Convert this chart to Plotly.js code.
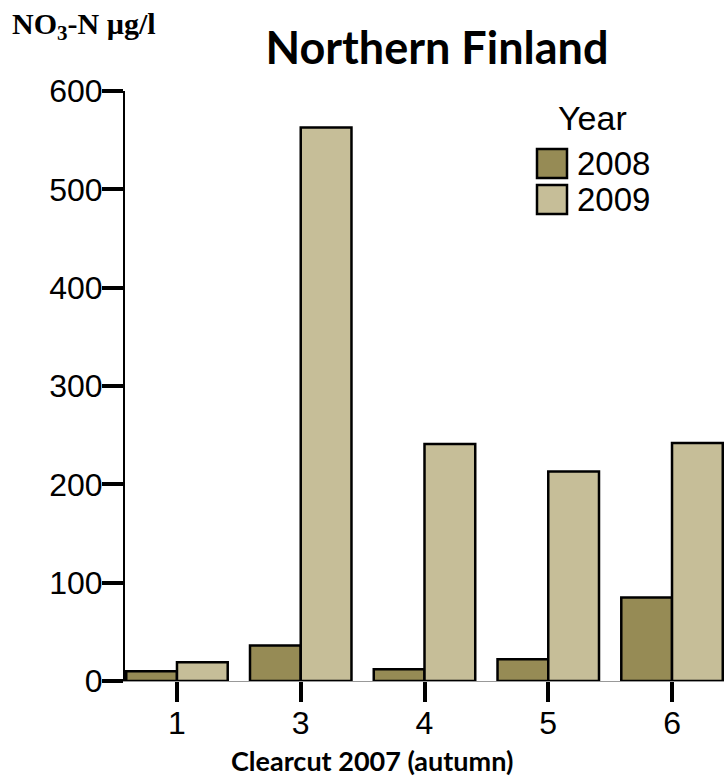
<!DOCTYPE html>
<html>
<head>
<meta charset="utf-8">
<script src="https://cdn.plot.ly/plotly-3.0.1.min.js"></script>
<style>html,body{margin:0;padding:0;background:#fff;}#chart{width:724px;height:778px;}</style>
</head>
<body>
<div id="chart"></div>
<script>
const categories = ["1", "3", "4", "5", "6"];
const years = ["2008", "2009"];
const values2008 = [10, 36, 12, 22, 85];
const values2009 = [19, 563, 241, 213, 242];
const yearColors = ["#968B55", "#C6BE98"];
const yTicks = [0, 100, 200, 300, 400, 500, 600];

const seriesValues = [values2008, values2009];
const traces = years.map((yr, i) => ({
  type: "bar",
  name: yr,
  x: categories,
  y: seriesValues[i],
  marker: {color: yearColors[i], line: {color: "#000", width: 2.5}},
  showlegend: false,
  hoverinfo: "x+y+name"
}));

// custom legend (large swatches)
const legShapes = [];
const legAnn = [];
years.forEach((yr, i) => {
  const top = 149 + i * 36;
  legShapes.push({type: "rect", xref: "paper", yref: "paper",
    x0: (537 - 125) / 599, x1: (567 - 125) / 599,
    y0: 1 - (top + 29 - 91) / 590, y1: 1 - (top - 91) / 590,
    fillcolor: yearColors[i], line: {color: "#000", width: 2.5}});
  legAnn.push({xref: "paper", yref: "paper", x: (575 - 125) / 599, y: 1 - (top + 14.5 - 91) / 590,
    xanchor: "left", yanchor: "middle", showarrow: false, text: yr,
    font: {family: "Liberation Sans, Arial", size: 33, color: "#000"}});
});
legAnn.push({xref: "paper", yref: "paper", x: (592 - 125) / 599, y: 1 - (118 - 91) / 590,
  xanchor: "center", yanchor: "middle", showarrow: false, text: "Year",
  font: {family: "Liberation Sans, Arial", size: 34, color: "#000"}});

const layout = {
  width: 724, height: 778,
  margin: {l: 125, r: 0, t: 91, b: 97},
  paper_bgcolor: "#fff", plot_bgcolor: "#fff",
  barmode: "group", bargap: 0.18, bargroupgap: 0,
  title: {text: "<b>Northern Finland</b>", x: 437 / 724, xanchor: "center", y: 1 - 48 / 778, yanchor: "middle",
    font: {family: "Lato, Open Sans, sans-serif", size: 45, color: "#000"}},
  xaxis: {
    type: "category", range: [-0.42, 4.42],
    showline: true, linecolor: "#999", linewidth: 1,
    ticks: "outside", ticklen: 20, tickwidth: 4, tickcolor: "#000",
    ticklabelstandoff: -6,
    showgrid: false, zeroline: false,
    tickfont: {family: "Liberation Sans, Arial", size: 32, color: "#000"},
    fixedrange: true
  },
  yaxis: {
    range: [0, 600], tickvals: yTicks, ticktext: yTicks.map(String),
    showline: true, linecolor: "#000", linewidth: 2,
    ticks: "outside", ticklen: 21, tickwidth: 4, tickcolor: "#000",
    ticklabelstandoff: -7,
    showgrid: false, zeroline: false,
    tickfont: {family: "Liberation Sans, Arial", size: 32, color: "#000"},
    fixedrange: true
  },
  shapes: legShapes,
  annotations: legAnn.concat([
    {xref: "paper", yref: "paper", x: (372 - 125) / 599, y: -(760 - 681) / 590, xanchor: "center", yanchor: "middle",
      showarrow: false, text: "<b>Clearcut 2007 (autumn)</b>",
      font: {family: "Lato, Open Sans, sans-serif", size: 27, color: "#000"}},
    {xref: "paper", yref: "paper", x: -(125 - 10) / 599, y: 1 + (91 - 26) / 590, xanchor: "left", yanchor: "middle",
      showarrow: false, text: "<b>NO<sub>3</sub>-N µg/l</b>",
      font: {family: "Liberation Serif, Times New Roman, serif", size: 30, color: "#000"}}
  ])
};

Plotly.newPlot("chart", traces, layout, {displayModeBar: false, staticPlot: true});
</script>
</body>
</html>
